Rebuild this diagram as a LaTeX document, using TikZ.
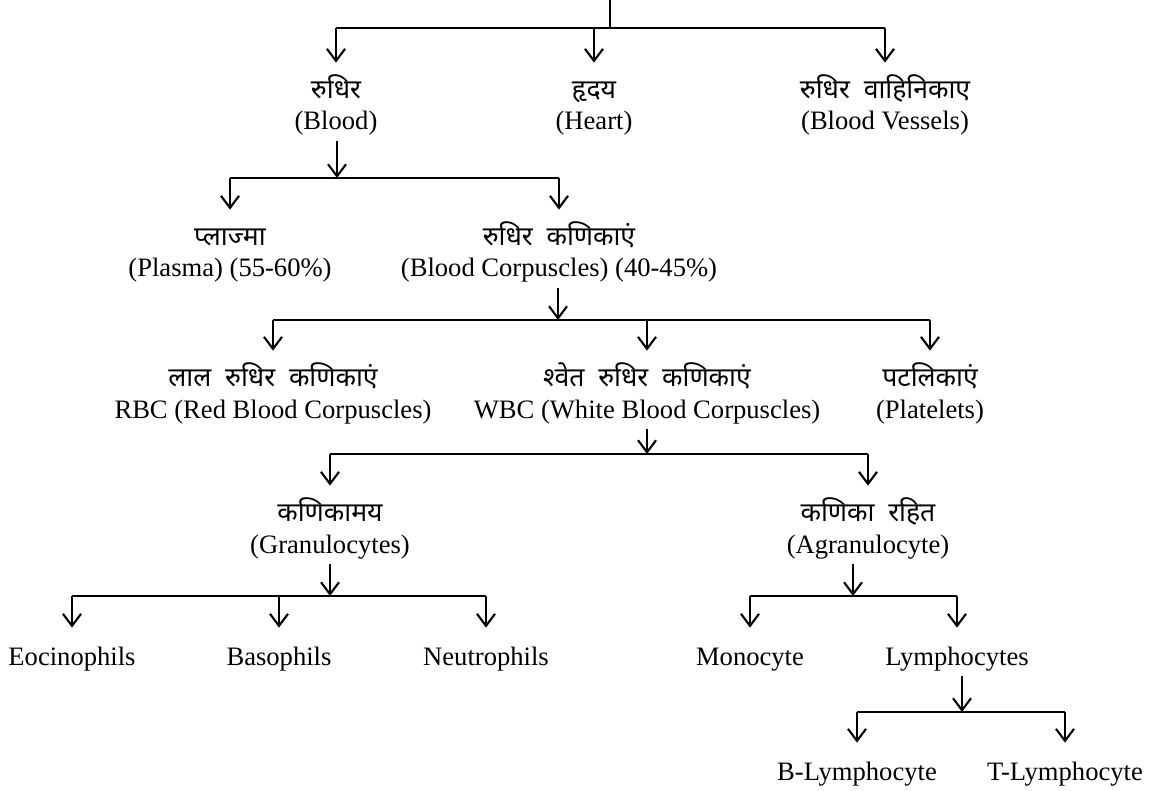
\documentclass[tikz,border=0pt]{standalone}
\usepackage{fontspec}
\setmainfont{Liberation Serif}
\newfontfamily\hin[Script=Devanagari,WordSpace=2]{Noto Sans}
\usetikzlibrary{arrows.meta}

\begin{document}
\begin{tikzpicture}[x=0.5pt,y=-0.5pt,
  bar/.style={line width=1.2pt},
  pick/.style={line width=1.05pt,-{Straight Barb[length=6pt,width=9pt,line width=1.05pt]}},
  into/.style={pick,shorten >=6.5pt},
  twoline/.style={text height=24pt},
  oneline/.style={text height=9pt}]
\useasboundingbox (0,0) rectangle (1152,791);
\begin{scope}[every node/.style={anchor=base,align=center,inner xsep=1pt,inner ysep=3pt,
    text depth=2.5pt,font=\fontsize{13.3}{15.8}\selectfont}]
\node[twoline] (blood) at (336,130) {{\hin रुधिर}\\(Blood)};
\node[twoline] (heart) at (594,130) {{\hin हृदय}\\(Heart)};
\node[twoline] (vessels) at (885,130) {{\hin रुधिर वाहिनिकाए}\\(Blood Vessels)};

\node[twoline] (plasma) at (230,277) {{\hin प्लाज्मा}\\(Plasma) (55-60\%)};
\node[twoline] (corp) at (559,277) {{\hin रुधिर कणिकाएं}\\(Blood Corpuscles) (40-45\%)};

\node[twoline] (rbc) at (273,418) {{\hin लाल रुधिर कणिकाएं}\\RBC (Red Blood Corpuscles)};
\node[twoline] (wbc) at (647,418) {{\hin श्वेत रुधिर कणिकाएं}\\WBC (White Blood Corpuscles)};
\node[twoline] (plate) at (930,418) {{\hin पटलिकाएं}\\(Platelets)};

\node[twoline] (gran) at (330,553) {{\hin कणिकामय}\\(Granulocytes)};
\node[twoline] (agran) at (868,553) {{\hin कणिका रहित}\\(Agranulocyte)};

\node[oneline] (eosin) at (72,665) {Eocinophils};
\node[oneline] (baso) at (279,665) {Basophils};
\node[oneline] (neutro) at (486,665) {Neutrophils};
\node[oneline] (mono) at (750,665) {Monocyte};
\node[oneline] (lympho) at (957,665) {Lymphocytes};

\node[oneline] (blym) at (857,780) {B-Lymphocyte};
\node[oneline] (tlym) at (1065,780) {T-Lymphocyte};
\end{scope}

% junctions
\coordinate (top) at (610,0);
\coordinate (j0) at (610,28);
\coordinate (j1) at (337,178);
\coordinate (j2) at (558,320);
\coordinate (j3) at (647,454);
\coordinate (j4) at (330,596);
\coordinate (j5) at (853,596);
\coordinate (j6) at (962,712);

% circulatory system
\draw[bar] (top) -- (j0);
\draw[bar] (blood.north |- j0) -- (vessels.north |- j0);
\draw[into] (blood.north |- j0) -- (blood.north);
\draw[into] (heart.north |- j0) -- (heart.north);
\draw[into] (vessels.north |- j0) -- (vessels.north);

% blood
\draw[pick] (j1 |- blood.south) -- (j1);
\draw[bar] (plasma.north |- j1) -- (corp.north |- j1);
\draw[into] (plasma.north |- j1) -- (plasma.north);
\draw[into] (corp.north |- j1) -- (corp.north);

% corpuscles
\draw[pick] (j2 |- corp.south) -- (j2);
\draw[bar] (rbc.north |- j2) -- (plate.north |- j2);
\draw[into] (rbc.north |- j2) -- (rbc.north);
\draw[into] (wbc.north |- j2) -- (wbc.north);
\draw[into] (plate.north |- j2) -- (plate.north);

% wbc
\draw[pick] (j3 |- wbc.south) -- (j3);
\draw[bar] (gran.north |- j3) -- (agran.north |- j3);
\draw[into] (gran.north |- j3) -- (gran.north);
\draw[into] (agran.north |- j3) -- (agran.north);

% granulocytes
\draw[pick] (j4 |- gran.south) -- (j4);
\draw[bar] (eosin.north |- j4) -- (neutro.north |- j4);
\draw[into] (eosin.north |- j4) -- (eosin.north);
\draw[into] (baso.north |- j4) -- (baso.north);
\draw[into] (neutro.north |- j4) -- (neutro.north);

% agranulocytes
\draw[pick] (j5 |- agran.south) -- (j5);
\draw[bar] (mono.north |- j5) -- (lympho.north |- j5);
\draw[into] (mono.north |- j5) -- (mono.north);
\draw[into] (lympho.north |- j5) -- (lympho.north);

% lymphocytes
\draw[pick] (j6 |- lympho.south) -- (j6);
\draw[bar] (blym.north |- j6) -- (tlym.north |- j6);
\draw[into] (blym.north |- j6) -- (blym.north);
\draw[into] (tlym.north |- j6) -- (tlym.north);
\end{tikzpicture}
\end{document}
